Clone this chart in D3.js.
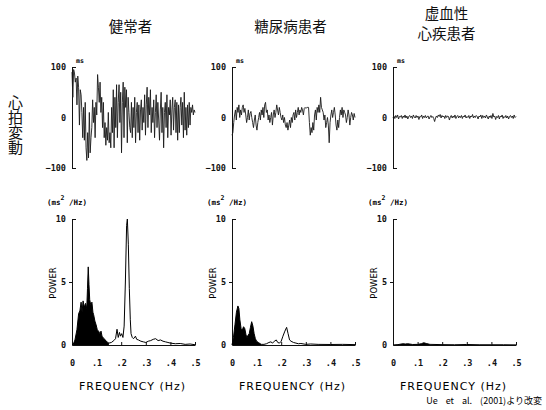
<!DOCTYPE html>
<html>
<head>
<meta charset="utf-8">
<script src="https://cdn.jsdelivr.net/npm/d3@7"></script>
<style>
  body { margin: 0; background: #fff; }
  .tick text { font-family: "DejaVu Sans Mono", monospace; font-weight: bold; font-size: 8.5px; fill: #111; }
  .title { font-family: "Noto Sans CJK JP", sans-serif; font-size: 14.5px; fill: #111; }
</style>
</head>
<body>
<script>
// panel titles
var titles = [["健常者"], ["糖尿病患者"], ["虚血性", "心疾患者"]];
var sideLabel = "心拍変動";

// R-R interval fluctuation (ms)
var healthyRR = [90, 40, 95, 88, 70, 78, 25, 82, 60, -15, 55, 45, 10, -40, 20, -45, 30, -60, -85, -30,
  -80, 10, -70, -40, -20, 35, -10, 20, -40, 30, 5, 85, 60, 30, 70, 10, 40, -20, 30, -40,
  -10, -55, -20, -45, 10, -50, -30, -60, 20, -30, 55, -60, 40, -20, 65, -40, 30, 65, -10, 50,
  -70, 30, 70, -40, 60, 20, 55, -50, 40, 10, -20, -30, 30, -40, 20, -20, 40, -50, 10, 30,
  -30, 25, -45, 15, 35, -25, 20, -10, 45, -35, 25, 60, -20, 40, 5, 55, -30, 20, -10, 35,
  -40, 10, 45, -20, 30, -5, -45, 15, 50, -30, 20, -60, 10, 30, -20, 45, -40, 20, 5, 35,
  -35, 15, 40, -25, 20, 35, -30, 30, -45, 25, -30, 20, 40, -15, 30, -40, 50, -25, 20, -35,
  25, -20, 30, -15, 20, 10, 25, 5, 15, 10];
var diabeticRR = [-35, -30, -10, 5, 15, -5, 20, 10, 25, 0, 15, 5, 20, 25, 10, 18, 5, -10, 0, 15,
  -5, 8, 12, 0, -10, -20, -5, 5, -15, -25, -10, 0, 10, -5, 15, 5, 20, 0, 25, 30,
  10, 15, -5, 5, -10, 0, 10, -15, 5, 15, 0, 10, 25, 15, 5, 20, 10, 0, -5, 5,
  -10, 0, -15, -20, -10, -25, -15, -5, -20, 0, -10, 5, 10, -5, 15, 0, 10, 20, 5, 15,
  10, 20, 15, 5, 18, 20, 18, 20, 20, 20, -10, -35, -20, -30, -10, -25, 5, 15, -5, 20,
  10, 25, 10, 40, 20, 15, 10, -5, 5, -20, -10, 0, -15, -50, -10, 5, 15, 0, 10, 20,
  5, -15, -25, -5, -20, 0, 15, 5, 20, 0, 15, 10, 5, -10, 0, 15, 5, -15, 0, 10,
  5, -5, 8, 0];
var ischemicRR = [0, 3, -2, 4, 0, 5, -3, 2, 1, 4, -2, 3, 0, 5, -1, 3, -3, 2, 4, 0,
  3, -2, 5, 1, -1, 4, 0, 3, -4, 2, 1, 5, -2, 3, 0, 4, -1, 2, 3, -3, 1, 4, 0, 2,
  -2, -8, -1, 3, 0, 5, 2, 6, -1, 4, 1, 3, -2, 4, 0, 3, 2, -5, 1, 4,
  -1, 3, 0, 5, -2, 2, 4, -1, 3, 0, 4, -2, 3, 1, 5, -1, 2, 0, 4, -2,
  3, 1, 6, -1, 3, 0, 4, 2, -3, 3, 1, 5, -2, 4, 0, 3, -1, 5, 1, -3,
  3, 0, 4, -2, 8, 1, 3, -4, 2, 0, 4, -3, 3, 1, 5, -2, 2, 0, 4, -1,
  3, -3, 2, 4, 0, 3, -2, 5, 0, 2];

// power spectra: [frequency (Hz), power (ms2/Hz)]
var healthySpec = [[0, 0], [0.005, 0.05], [0.012, 0.4], [0.02, 1.2], [0.027, 2.5], [0.032, 2.7], [0.037, 3.4],
  [0.041, 2.6], [0.045, 3.5], [0.05, 3.0], [0.055, 3.3], [0.06, 2.9], [0.063, 4.5], [0.066, 6.2],
  [0.069, 4.8], [0.072, 3.6], [0.076, 3.2], [0.081, 3.4], [0.085, 2.6], [0.088, 2.4], [0.093, 1.9],
  [0.098, 1.6], [0.103, 1.2], [0.108, 1.1], [0.113, 0.9], [0.118, 1.1], [0.122, 0.7], [0.13, 0.5],
  [0.138, 0.35], [0.145, 0.2], [0.15, 0.15], [0.16, 0.2], [0.17, 0.35], [0.177, 0.5], [0.183, 1.25],
  [0.188, 0.6], [0.193, 1.0], [0.197, 0.7], [0.202, 0.9], [0.207, 0.6], [0.212, 1.5], [0.217, 5.0],
  [0.222, 9.5], [0.225, 10], [0.229, 8], [0.233, 4.5], [0.237, 2.0], [0.24, 0.9], [0.245, 0.6],
  [0.25, 0.5], [0.258, 0.7], [0.263, 0.45], [0.27, 0.4], [0.28, 0.3], [0.29, 0.25], [0.3, 0.2],
  [0.31, 0.3], [0.32, 0.35], [0.33, 0.45], [0.34, 0.5], [0.35, 0.35], [0.36, 0.4], [0.37, 0.3],
  [0.38, 0.25], [0.39, 0.2], [0.4, 0.15], [0.42, 0.1], [0.44, 0.12], [0.46, 0.05], [0.48, 0.08], [0.5, 0.02]];
var diabeticSpec = [[0, 0], [0.006, 0.6], [0.012, 1.6], [0.018, 2.6], [0.024, 3.1], [0.028, 2.9], [0.032, 2.0],
  [0.037, 1.3], [0.042, 1.2], [0.047, 1.45], [0.052, 1.3], [0.057, 0.8], [0.061, 0.6], [0.066, 0.8],
  [0.07, 0.9], [0.075, 1.4], [0.08, 1.85], [0.085, 1.5], [0.09, 0.9], [0.095, 0.5], [0.1, 0.3],
  [0.107, 0.2], [0.115, 0.1], [0.12, 0.05], [0.13, 0.05], [0.14, 0.1], [0.15, 0.2], [0.158, 0.25],
  [0.165, 0.15], [0.172, 0.3], [0.18, 0.4], [0.186, 0.2], [0.193, 0.15], [0.2, 0.3], [0.207, 0.7],
  [0.215, 1.1], [0.222, 1.4], [0.228, 0.9], [0.234, 0.4], [0.24, 0.3], [0.25, 0.2], [0.26, 0.15],
  [0.27, 0.1], [0.28, 0.12], [0.3, 0.05], [0.32, 0.08], [0.35, 0.05], [0.4, 0.04], [0.45, 0.05], [0.5, 0.03]];
var ischemicSpec = [[0, 0], [0.02, 0.03], [0.04, 0.1], [0.05, 0.08], [0.06, 0.1], [0.08, 0.04], [0.1, 0.05],
  [0.115, 0.1], [0.125, 0.18], [0.135, 0.12], [0.15, 0.05], [0.2, 0.03], [0.25, 0.02], [0.3, 0.04],
  [0.35, 0.02], [0.4, 0.02], [0.45, 0.02], [0.5, 0.01]];

// black area up to this frequency (LF part)
var fillLimits = [0.15, 0.12, 0.15];

var rrTicks = [-100, 0, 100];
var powerTicks = [0, 5, 10];
var freqTicks = [0, 0.1, 0.2, 0.3, 0.4, 0.5];
var freqLabels = ["0", ".1", ".2", ".3", ".4", ".5"];

var allRR = [healthyRR, diabeticRR, ischemicRR];
var allSpec = [healthySpec, diabeticSpec, ischemicSpec];

/* layout */
var width = 546, height = 410;
var panelLeft = [72, 232, 393];
var panelWidth = 123;

var svg = d3.select("body")
            .append("svg")
            .attr("width", width)
            .attr("height", height);

var yRR = d3.scaleLinear().domain([-100, 100]).range([168, 67]);
var yPow = d3.scaleLinear().domain([0, 10]).range([345, 219]);

// vertical side label
svg.append("text")
   .attr("class", "title")
   .attr("x", 15.5)
   .attr("y", 125)
   .attr("text-anchor", "middle")
   .style("writing-mode", "vertical-rl")
   .style("text-orientation", "upright")
   .style("font-size", "15px")
   .text(sideLabel);

for (let p = 0; p < 3; p++) {
  var x0 = panelLeft[p];
  var cx = x0 + panelWidth / 2 - 3;

  // titles
  var lines = titles[p];
  lines.forEach(function(t, i) {
    var yy = lines.length == 1 ? 32 : 19 + i * 20;
    svg.append("text")
       .attr("class", "title")
       .attr("x", lines.length == 1 ? cx : cx - 5)
       .attr("y", yy)
       .attr("text-anchor", "middle")
       .text(t);
  });

  /* heart rate variability */
  var rr = allRR[p];
  var xIdx = d3.scaleLinear().domain([0, rr.length - 1]).range([x0, x0 + panelWidth]);

  var rrAxis = svg.append("g")
     .attr("transform", "translate(" + x0 + ",0)")
     .call(d3.axisLeft(yRR).tickValues(rrTicks).tickSize(-4).tickSizeOuter(0).tickPadding(6)
            .tickFormat(d3.format("d")));
  rrAxis.select(".domain").attr("stroke", "#111");
  rrAxis.selectAll(".tick line")
        .attr("stroke", "#111")
        .attr("x2", function(d) { return d == 0 ? 0 : 4; });

  svg.append("text")
     .attr("x", x0 + 4)
     .attr("y", 63)
     .style("font-family", "DejaVu Sans Mono")
     .style("font-weight", "bold")
     .style("font-size", "6.5px")
     .text("ms");

  svg.append("path")
     .datum(rr)
     .attr("fill", "none")
     .attr("stroke", "#1a1a1a")
     .attr("stroke-width", 0.9)
     .attr("d", d3.line()
                  .x(function(d, i) { return xIdx(i); })
                  .y(function(d) { return yRR(d); }));

  /* power spectrum */
  var spec = allSpec[p];
  var xF = d3.scaleLinear().domain([0, 0.5]).range([x0, x0 + panelWidth]);

  var powAxis = svg.append("g")
     .attr("transform", "translate(" + x0 + ",0)")
     .call(d3.axisLeft(yPow).tickValues(powerTicks).tickSize(-4).tickSizeOuter(0).tickPadding(6));
  powAxis.select(".domain").attr("stroke", "#111");
  powAxis.selectAll(".tick line")
         .attr("stroke", "#111")
         .attr("x2", function(d) { return d == 10 ? 4 : (d == 5 ? -3 : 0); });

  var fAxis = svg.append("g")
     .attr("transform", "translate(0,345)")
     .call(d3.axisBottom(xF).tickValues(freqTicks).tickSize(-3).tickSizeOuter(0).tickPadding(15)
            .tickFormat(function(d, i) { return freqLabels[i]; }));
  fAxis.select(".domain").attr("stroke", "#111");
  fAxis.selectAll(".tick line").attr("stroke", "#111");

  // LF area in black
  var lim = fillLimits[p];
  svg.append("path")
     .datum(spec.filter(function(d) { return d[0] <= lim; }))
     .attr("fill", "#000")
     .attr("d", d3.area()
                  .x(function(d) { return xF(d[0]); })
                  .y0(yPow(0))
                  .y1(function(d) { return yPow(d[1]); }));

  svg.append("path")
     .datum(spec)
     .attr("fill", "none")
     .attr("stroke", "#000")
     .attr("stroke-width", 1)
     .attr("d", d3.line()
                  .x(function(d) { return xF(d[0]); })
                  .y(function(d) { return yPow(d[1]); }));

  // unit label (ms2/Hz), the 2 raised after the s
  var unit = svg.append("text")
     .attr("x", x0 - 25)
     .attr("y", 205)
     .style("font-family", "DejaVu Sans Mono")
     .style("font-weight", "bold")
     .style("font-size", "7.5px");
  unit.append("tspan").text("(ms");
  unit.append("tspan").attr("dy", -5).style("font-size", "6.5px").text("2");
  unit.append("tspan").attr("dy", 5).text(" /Hz)");

  // POWER label
  svg.append("text")
     .attr("transform", "translate(" + (x0 - 16) + ",283) rotate(-90)")
     .attr("text-anchor", "middle")
     .style("font-family", "DejaVu Sans")
     .style("font-size", "8.5px")
     .text("POWER");

  // FREQUENCY label
  svg.append("text")
     .attr("x", x0 + panelWidth / 2 - 1)
     .attr("y", 390)
     .attr("text-anchor", "middle")
     .style("font-family", "DejaVu Sans")
     .style("font-size", "11px")
     .style("letter-spacing", "1px")
     .text("FREQUENCY  (Hz)");
}

// source
svg.append("text")
   .attr("x", 542)
   .attr("y", 404)
   .attr("text-anchor", "end")
   .style("font-family", "Noto Sans CJK JP, sans-serif")
   .style("font-size", "9px")
   .style("word-spacing", "6px")
   .text("Ue et al. (2001)より改変");
</script>
</body>
</html>
